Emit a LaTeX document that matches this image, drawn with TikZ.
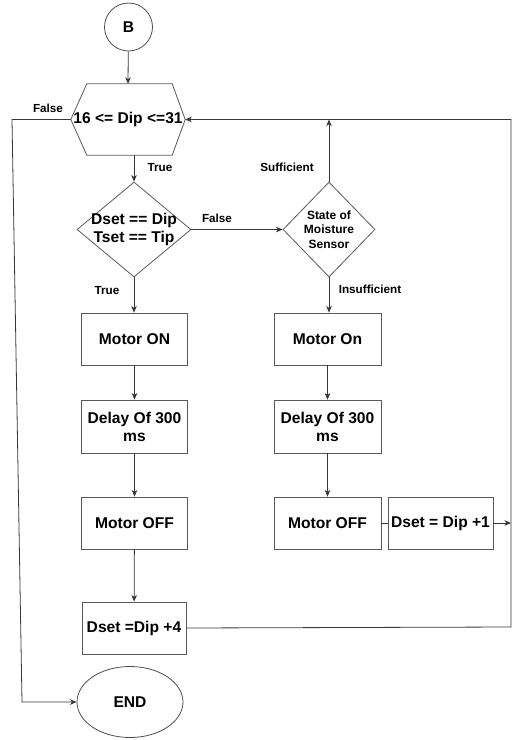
\documentclass[tikz,border=0pt]{standalone}
\usepackage{fontspec}
\setmainfont{Liberation Sans}
\usetikzlibrary{shapes.geometric,arrows.meta}
\tikzset{
  ln/.style={draw=black!78, line width=0.8pt},
  arr/.style={ln, -{Stealth[length=6.5pt,width=5.5pt,inset=1.8pt]}},
  bigtxt/.style={font=\bfseries\fontsize{15.6}{18}\selectfont, align=center},
  smalltxt/.style={font=\bfseries\fontsize{11.7}{14}\selectfont},
  stepbox/.style={rectangle, draw=black!65, line width=0.8pt, minimum width=106pt, minimum height=52pt, inner sep=0pt, bigtxt},
  decbox/.style={diamond, draw=black!65, line width=0.8pt, inner sep=0pt},
}
\begin{document}
\begin{tikzpicture}[x=1pt,y=-1pt]
\useasboundingbox (0,0) rectangle (526,740);
% start
\node[circle, draw=black!70, line width=0.8pt, minimum size=48pt, inner sep=0pt, bigtxt] (B) at (128.5,27) {B};
% hexagon
\node[rectangle, minimum width=114pt, minimum height=71pt, inner sep=0pt, bigtxt] (hex) at (128,119.5) {16 <= Dip <=31};
\draw[draw=black!65, line width=0.8pt] (hex.west) -- ([xshift=16pt]hex.north west) -- ([xshift=-13pt]hex.north east) -- (hex.east) -- ([xshift=-13pt]hex.south east) -- ([xshift=16pt]hex.south west) -- cycle;
% decisions
\node[decbox, minimum width=114pt, minimum height=95pt,
  label={[bigtxt]center:Dset == Dip\\Tset == Tip}] (d1) at (134,229.5) {};
\node[decbox, minimum width=92pt, minimum height=95pt,
  label={[font=\bfseries\fontsize{12}{14.5}\selectfont, align=center]center:State of\\Moisture\\Sensor}] (d2) at (329,229.5) {};
% left column
\node[stepbox] (m1) at (134.5,339) {Motor ON};
\node[stepbox, minimum height=53pt] (dl1) at (134.5,426.5) {Delay Of 300\\ms};
\node[stepbox] (mo1) at (134.5,523) {Motor OFF};
\node[stepbox, minimum width=104pt] (ds4) at (134,628) {Dset =Dip +4};
% right column
\node[stepbox, minimum width=107pt] (m2) at (327.5,339) {Motor On};
\node[stepbox, minimum width=107pt, minimum height=53pt] (dl2) at (327.5,426.5) {Delay Of 300\\ms};
\node[stepbox, minimum width=107pt] (mo2) at (327.5,523) {Motor OFF};
\node[stepbox, minimum width=105pt] (ds1) at (440.5,523) {Dset = Dip +1};
% end
\node[ellipse, draw=black!70, line width=0.8pt, minimum width=106pt, minimum height=71pt, inner sep=0pt, bigtxt] (end) at (130,702) {END};
% helper coordinates
\coordinate (rt) at (511,119.5);
\coordinate (rb) at (511,627);
\coordinate (rm) at (511,523);
\coordinate (lt) at (12,119.5);
\coordinate (lb) at (22,702);
% connectors
\draw[arr] (B) -- (hex.north);
\draw[arr] (d1.north |- hex.south) -- (d1.north);
\draw[arr] (d1.south) -- (d1.south |- m1.north);
\draw[arr] (d1.east) -- (d2.west);
\draw[arr] (d2.north) -- (d2.north |- rt);
\draw[arr] (d2.south) -- (d2.south |- m2.north);
\draw[arr] (m1) -- (dl1);
\draw[arr] (dl1) -- (mo1);
\draw[arr] (mo1) -- (ds4);
\draw[arr] (m2) -- (dl2);
\draw[arr] (dl2) -- (mo2);
\draw[ln] (mo2.east) -- (ds1.west);
\draw[arr] (ds1.east) -- (rm);
\draw[arr] (ds4.east) -- (rb) -- (rt) -- (hex.east);
\draw[arr] (hex.west) -- (lt) -- (lb) -- (end.west);
% labels
\node[smalltxt] (lfalse1) at (48,108) {False};
\node[smalltxt] (ltrue1) at (160,167.5) {True};
\node[smalltxt] (ltrue2) at (107,290.5) {True};
\node[smalltxt] (lfalse2) at (217,218) {False};
\node[smalltxt] (lsuff) at (287,167.5) {Sufficient};
\node[smalltxt] (linsuf) at (370,289) {Insufficient};
\end{tikzpicture}
\end{document}
